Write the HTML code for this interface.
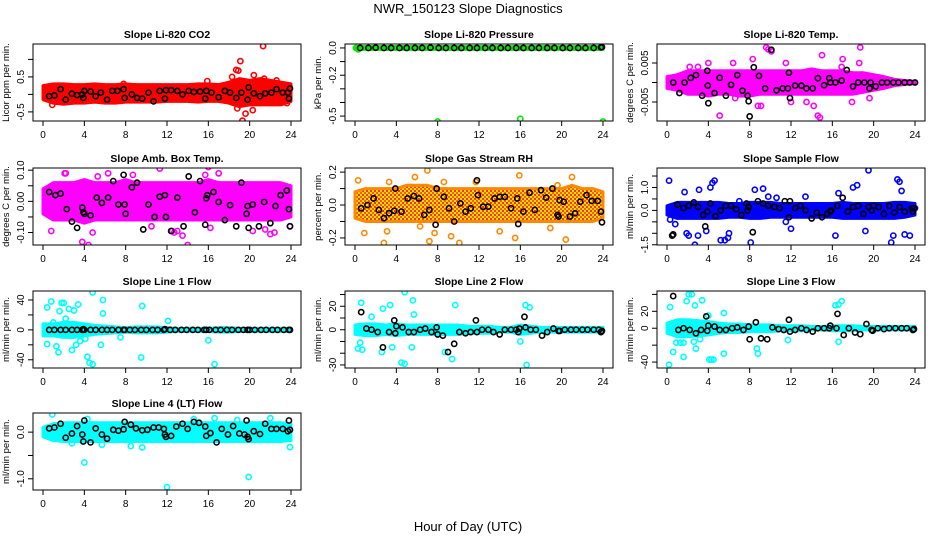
<!DOCTYPE html>
<html><head><meta charset="utf-8">
<style>
html,body{margin:0;padding:0;background:#fff;}
svg{display:block;font-family:"Liberation Sans",Arial,sans-serif;}
</style></head>
<body>
<svg id="fig" width="936" height="540" viewBox="0 0 936 540" xmlns="http://www.w3.org/2000/svg">
<defs>
<pattern id="rhpat" width="4" height="4" patternUnits="userSpaceOnUse">
<rect width="4" height="4" fill="#ffe000"/><rect width="2" height="2" fill="#ff5a00"/><rect x="2" y="2" width="2" height="2" fill="#ff3000"/>
</pattern>
</defs>
<text x="468" y="13" text-anchor="middle" font-size="13">NWR_150123  Slope Diagnostics</text>
<text x="468" y="531" text-anchor="middle" font-size="13">Hour of Day (UTC)</text>
</svg>
<script>
const bandHours=[0,1,2,3,4,5,6,7,8,9,10,11,12,13,14,15,16,17,18,19,20,21,22,23,24];
const xTicks=[0,4,8,12,16,20,24];

// CO2
const co2Hi=[0.25,0.3,0.3,0.28,0.28,0.3,0.28,0.28,0.3,0.28,0.28,0.28,0.28,0.28,0.28,0.3,0.3,0.28,0.35,0.45,0.4,0.45,0.4,0.35,0.3];
const co2Lo=[-0.15,-0.25,-0.28,-0.25,-0.25,-0.22,-0.25,-0.25,-0.22,-0.22,-0.22,-0.22,-0.2,-0.2,-0.2,-0.22,-0.2,-0.2,-0.25,-0.35,-0.3,-0.3,-0.3,-0.3,-0.2];
const co2OutX=[18.7,19.1,21.3,18.9,20.4,19.3,20.3,18.8,15.9,18.3,21.4,0.9,7.8,22.6,19.6,23.6];
const co2OutY=[0.7,0.95,1.38,0.68,0.55,-0.75,-0.45,-0.4,0.38,0.5,0.45,-0.3,0.3,0.4,-0.55,-0.25];
const co2BlkX=[0.6,1.1,1.7,2.2,2.8,3.3,3.8,3.9,4.0,4.6,5.1,5.6,6.2,6.7,7.2,7.8,7.9,8.6,9.1,9.6,10.2,10.7,11.3,11.8,11.9,12.4,13.0,13.5,14.1,14.6,15.2,15.7,15.8,16.3,17.0,17.6,18.1,18.7,19.2,19.8,19.9,20.4,21.0,21.5,22.1,22.6,23.2,23.7,23.8,23.9];
const co2BlkY=[-0.05,-0.03,0.15,-0.15,0.02,-0.02,0.0,-0.1,0.1,0.08,-0.05,0.05,-0.15,0.1,0.1,0.15,-0.1,0.0,-0.1,-0.12,0.05,-0.2,0.1,-0.12,0.12,0.12,0.1,0.0,0.1,0.07,0.08,-0.12,0.1,0.05,-0.08,0.1,0.05,-0.1,0.05,-0.15,0.2,0.03,-0.05,0.03,0.05,0.15,0.05,0.05,-0.12,0.17];

// Pressure
const presHi=[0.01,0.01,0.01,0.01,0.01,0.01,0.01,0.01,0.01,0.01,0.01,0.01,0.01,0.01,0.01,0.01,0.01,0.01,0.01,0.01,0.01,0.01,0.01,0.01,0.01];
const presLo=[-0.01,-0.01,-0.01,-0.01,-0.01,-0.01,-0.01,-0.01,-0.01,-0.01,-0.01,-0.01,-0.01,-0.01,-0.01,-0.01,-0.01,-0.01,-0.01,-0.01,-0.01,-0.01,-0.01,-0.01,-0.01];
const presOutX=[8.0,16.0,24.0,0.1,0.3];
const presOutY=[-0.54,-0.52,-0.54,0.0,-0.01];
const presBlkX=[0.5,1.3,2.0,2.8,3.5,4.3,5.0,5.8,6.5,7.3,8.1,8.8,9.6,10.3,11.1,11.8,12.6,13.3,14.1,14.8,15.6,16.3,17.1,17.8,18.6,19.3,20.1,20.8,21.6,22.3,23.1,23.8,23.9];
const presBlkY=[0,0,0.002,0,0,0,0,0,0,0.002,0,0,0,0,0,0,0,0,0,0,0,0,0,0,0,0,0,0,0,0,0,0.004,0.006];

// Li-820 Temp
const tmpHi=[0.0015,0.002,0.003,0.003,0.003,0.003,0.003,0.003,0.003,0.003,0.003,0.003,0.003,0.003,0.0035,0.003,0.003,0.003,0.0025,0.0025,0.002,0.0015,0.0008,0.0005,0.0003];
const tmpLo=[-0.0015,-0.002,-0.003,-0.003,-0.0035,-0.003,-0.003,-0.0035,-0.0035,-0.003,-0.003,-0.003,-0.003,-0.003,-0.003,-0.003,-0.003,-0.003,-0.003,-0.0025,-0.002,-0.0015,-0.0008,-0.0005,-0.0003];
const tmpOutX=[9.6,18.7,10.1,9.8,5.1,14.6,14.8,14.2,8.3,6.4,4.0,3.0,17.0,18.6,15.0,12.0,9.1,2.2,6.6,19.6,13.5,17.9,11.5,16.9,8.8];
const tmpOutY=[0.009,0.009,0.008,0.0085,-0.0085,-0.0085,-0.009,-0.006,0.006,0.005,0.005,0.004,0.006,0.005,0.007,-0.005,-0.006,0.004,-0.004,-0.004,-0.005,-0.005,0.005,0.004,-0.006];
const tmpBlkX=[0.6,1.2,1.7,2.3,2.8,3.4,3.9,3.95,4.0,4.6,5.1,5.7,6.2,6.8,7.3,7.8,7.9,8.0,8.4,8.9,9.5,10.1,10.6,11.2,11.7,11.8,11.9,12.4,13.0,13.5,14.1,14.6,15.2,15.7,15.8,16.3,16.9,17.4,18.0,18.5,19.1,19.6,19.7,20.2,20.8,21.3,21.9,22.4,23.0,23.5,24.0];
const tmpBlkY=[0,-0.0027,0,0.0012,0.0019,-0.0034,0.003,-0.0008,-0.0053,-0.0027,0.0012,-0.0034,-0.0006,0.0019,-0.0021,-0.0034,-0.0048,-0.0087,0.0039,0.0017,-0.0015,0.0084,-0.002,-0.0015,-0.0015,0.0025,-0.004,-0.0008,-0.0008,-0.0015,-0.0015,0.0011,-0.0007,0.0011,0.0,0.0,0.0005,0.0032,-0.001,0.0,0.0,-0.0015,0.0,-0.001,0.0,0.0,0.0,0.0,0.0,0.0,0.0];

// Amb box temp
const ambHi=[0.04,0.06,0.06,0.06,0.07,0.06,0.06,0.06,0.07,0.06,0.06,0.06,0.06,0.06,0.06,0.06,0.07,0.06,0.06,0.06,0.06,0.06,0.06,0.06,0.05];
const ambLo=[-0.04,-0.06,-0.06,-0.06,-0.07,-0.06,-0.06,-0.06,-0.06,-0.06,-0.06,-0.06,-0.06,-0.06,-0.06,-0.06,-0.06,-0.06,-0.06,-0.06,-0.06,-0.06,-0.06,-0.06,-0.05];
const ambOutX=[2.2,3.8,4.4,4.8,0.8,11.3,12.7,13.0,13.5,14.0,16.0,16.2,20.3,21.5,22.0,22.4,2.1,10.5,12.5,6.3,15.7,17.0,8.7,5.3,23.9];
const ambOutY=[0.09,-0.13,-0.14,-0.1,-0.095,0.105,-0.1,-0.095,-0.11,-0.14,0.11,-0.085,-0.095,-0.09,-0.105,-0.1,0.09,-0.08,-0.095,0.09,0.085,0.09,0.085,0.08,-0.08];
const ambBlkX=[0.6,1.2,1.7,2.3,2.8,3.3,3.8,3.9,4.0,4.6,5.2,5.7,6.3,6.8,7.3,7.8,7.9,8.0,8.6,9.1,9.7,10.2,10.8,11.3,11.8,11.9,12.4,13.0,13.6,14.1,14.7,15.2,15.7,15.8,15.9,16.5,17.0,17.6,18.1,18.7,19.2,19.7,19.8,19.9,20.3,20.9,21.4,22.0,22.5,23.0,23.6,23.8,23.9];
const ambBlkY=[0.03,0.02,0.025,-0.025,-0.065,-0.085,-0.02,-0.035,-0.04,-0.045,0.012,-0.005,0.012,0.065,-0.01,0.085,-0.01,-0.04,0.045,0.06,-0.09,-0.01,-0.05,0.015,0.02,-0.05,-0.095,0.012,-0.08,0.08,-0.035,0.065,-0.075,0.01,0.02,0.03,-0.002,-0.06,-0.012,-0.08,0.06,-0.04,-0.015,-0.085,-0.01,-0.08,-0.002,-0.07,-0.015,0.02,0.035,-0.025,-0.08];

// Gas stream RH
const rhHi=[0.08,0.1,0.1,0.1,0.1,0.12,0.12,0.12,0.1,0.1,0.1,0.1,0.1,0.1,0.1,0.1,0.1,0.1,0.1,0.1,0.1,0.12,0.1,0.1,0.08];
const rhLo=[-0.08,-0.1,-0.1,-0.1,-0.1,-0.1,-0.1,-0.1,-0.1,-0.1,-0.1,-0.1,-0.1,-0.1,-0.1,-0.1,-0.1,-0.1,-0.1,-0.1,-0.1,-0.1,-0.1,-0.1,-0.08];
const rhOutX=[0.3,0.9,2.8,3.3,5.8,6.3,7.0,7.2,7.7,8.6,10.1,11.7,14.0,15.5,15.9,18.9,19.6,20.4,21.0,3.1,7.8,9.3];
const rhOutY=[0.15,-0.17,-0.23,0.14,0.17,-0.13,0.21,-0.22,-0.17,0.14,-0.23,0.14,-0.16,-0.2,0.18,-0.14,0.12,-0.21,0.17,-0.16,0.1,-0.19];
const rhBlkX=[0.6,1.2,1.8,2.3,2.8,3.3,3.8,3.9,4.5,5.1,5.7,6.2,6.7,7.2,7.8,7.9,8.6,9.1,9.6,10.2,10.7,11.2,11.8,11.9,12.4,12.9,13.5,14.0,14.5,15.1,15.7,15.8,16.3,16.9,17.4,18.0,18.5,19.1,19.6,19.7,19.8,20.2,20.8,21.3,21.8,22.4,22.9,23.5,23.8,23.9];
const rhBlkY=[-0.02,0.0,0.04,-0.03,-0.08,-0.05,-0.035,0.1,-0.04,0.04,0.055,0.04,-0.06,-0.03,-0.12,0.1,0.05,-0.02,-0.1,0.01,-0.04,-0.02,0.15,0.06,-0.01,-0.01,0.04,0.05,0.05,-0.02,0.04,-0.115,-0.04,0.075,-0.03,0.09,0.045,0.1,-0.06,-0.07,0.03,0.02,-0.07,-0.05,0.02,0.06,0.025,0.025,-0.04,-0.105];

// Sample flow
const smpHi=[0.2,0.35,0.35,0.35,0.35,0.35,0.3,0.3,0.35,0.35,0.35,0.3,0.3,0.3,0.3,0.3,0.3,0.35,0.3,0.3,0.3,0.3,0.35,0.35,0.3];
const smpLo=[-0.2,-0.35,-0.35,-0.35,-0.35,-0.35,-0.3,-0.3,-0.35,-0.35,-0.3,-0.3,-0.3,-0.3,-0.3,-0.3,-0.3,-0.35,-0.35,-0.35,-0.35,-0.35,-0.35,-0.3,-0.2];
const smpOutX=[0.2,0.3,1.7,1.9,2.1,2.7,3.0,3.1,4.4,4.6,4.2,5.2,5.6,5.9,6.0,8.1,8.5,9.3,9.8,10.6,12.0,13.4,16.3,16.6,18.0,18.4,19.5,19.2,21.7,21.9,22.3,22.5,22.7,23.0,23.5,24.0,0.8,3.8,7.0,11.5];
const smpOutY=[1.3,-0.4,0.8,-1.0,-1.1,-1.5,-1.1,0.9,1.2,1.3,1.0,-1.3,-1.3,-1.2,-1.0,-1.4,0.9,0.95,0.6,0.55,-0.8,0.6,-1.1,0.75,1.0,1.1,1.75,-0.9,-1.4,-1.1,1.35,1.25,0.85,-1.05,-1.1,0.1,-0.6,-0.9,0.4,-0.5];
const smpBlkX=[0.5,0.6,1.0,1.6,2.1,2.6,3.0,3.5,3.7,3.9,4.2,4.7,5.2,5.7,6.2,6.7,7.2,7.7,7.8,7.9,8.3,8.8,9.3,9.8,10.4,10.9,11.4,11.8,11.9,12.4,12.9,13.4,14.0,14.5,15.0,15.5,15.8,15.9,16.5,17.0,17.5,18.0,18.5,19.0,19.5,19.8,20.0,20.5,21.0,21.5,22.0,22.5,23.0,23.7,23.8,23.9];
const smpBlkY=[-1.1,-1.05,0.25,0.1,0.2,0.35,0.15,-0.2,-0.7,-0.05,0.3,-0.25,-0.0,0.2,0.2,0.05,-0.2,0.3,0.0,0.15,-0.95,0.4,0.3,0.2,0.15,0.1,0.4,-0.3,0.4,0.1,0.2,-0.0,-0.35,-0.1,-0.3,-0.15,-0.05,0.0,0.2,0.55,-0.05,0.15,0.2,-0.15,0.15,0.0,0.2,0.15,-0.15,0.2,-0.1,0.15,-0.05,0.1,-0.05,0.1];

// Line 1 flow
const l1Hi=[8,8,10,10,8,6,5,4,3,4,4,4,3,2,2,2,2,3,3,2,2,2,2,2,2];
const l1Lo=[-8,-8,-10,-10,-8,-6,-5,-4,-3,-4,-4,-4,-3,-2,-2,-2,-2,-3,-3,-2,-2,-2,-2,-2,-2];
const l1OutX=[0.8,0.4,1.8,2.0,2.5,3.4,3.0,4.8,5.8,5.8,9.6,9.5,4.3,4.5,4.8,0.4,1.3,1.5,2.8,3.2,3.6,1.6,5.6,12.1,16.6,16.0,2.2,1.0,4.1,7.5];
const l1OutY=[38,30,36,36,28,34,26,50,40,22,32,-37,-36,-44,-46,-19,-22,-30,-27,-20,-15,25,-20,12,-46,-14,15,10,-12,-10];
const l1BlkX=[0.6,1.1,1.7,2.2,2.8,3.3,3.8,3.9,4.0,4.6,5.1,5.7,6.2,6.7,7.3,7.8,7.9,8.4,8.9,9.5,10.0,10.6,11.1,11.7,11.8,12.3,12.8,13.4,13.9,14.5,15.0,15.6,15.8,16.1,16.7,17.2,17.8,18.3,18.9,19.4,19.8,20.0,20.5,21.1,21.6,22.2,22.7,23.3,23.8,23.9];
const l1BlkY=[0,0,0,0,0,0,0,1,0,0,0,0,0,0,0,0,0,0,0,0,0,0,0,0,1,0,0,0,0,0,0,0,0,0,0,0,0,0,0,0,0,0,0,0,0,0,0,0,0,0];

// Line 2 flow
const l2Hi=[4,5,5,4,5,4,4,4,4,4,4,3,3,3,2,2,4,3,2,2,2,2,2,2,2];
const l2Lo=[-4,-5,-5,-4,-5,-4,-4,-4,-4,-4,-4,-3,-3,-3,-2,-2,-4,-3,-2,-2,-2,-2,-2,-2,-2];
const l2OutX=[0.6,0.3,0.7,2.7,3.4,4.8,5.6,5.7,9.7,4.5,4.8,2.6,0.5,8.7,9.4,16.5,16.9,16.6,16.0,5.5,3.6,1.6];
const l2OutY=[23,-16,-17,18,21,32,25,13,21,-28,-29,-19,-11,-19,-25,21,19,-30,-10,-15,-15,11];
const l2BlkX=[0.6,1.1,1.6,2.2,2.7,3.3,3.8,3.9,4.0,4.6,5.2,5.7,6.3,6.8,7.4,7.9,8.0,8.5,9.0,9.6,10.1,10.7,11.2,11.7,11.8,12.3,12.9,13.4,14.0,14.5,15.1,15.6,15.8,15.9,16.4,16.5,17.0,17.5,18.1,18.6,19.2,19.7,19.8,20.3,20.9,21.4,22.0,22.5,23.1,23.6,23.8,23.9];
const l2BlkY=[15,1,0,-2,-15,-2,8,-3,3,2,-2,-2,0,1,-2,2,-4,-5,-19,-12,-2,-3,-2,8,-2,0,0,-2,-4,0,0,0,-2,1,11,2,0,0,-5,-2,1,-1,-1,0,0,0,0,0,0,0,-2,-1];

// Line 3 flow
const l3Hi=[6,10,10,9,8,6,5,5,4,4,4,3,3,3,2,2,3,3,3,2,2,2,2,2,2];
const l3Lo=[-6,-10,-10,-9,-8,-6,-5,-5,-4,-4,-4,-3,-3,-3,-2,-2,-3,-3,-3,-2,-2,-2,-2,-2,-2];
const l3OutX=[0.2,0.3,0.6,1.6,1.9,2.1,2.4,2.7,2.8,3.4,4.1,4.3,4.5,5.5,1.6,0.9,1.3,2.6,4.0,8.7,8.8,16.3,16.6,16.9,16.6,11.7,3.2,5.5];
const l3OutY=[-43,25,-28,-34,32,40,40,27,-24,33,-37,-37,-37,-30,-17,-17,-17,-16,15,-24,-30,27,28,32,-16,-14,-13,18];
const l3BlkX=[0.6,1.1,1.6,2.2,2.8,3.3,3.8,3.9,4.0,4.6,5.1,5.7,6.3,6.8,7.4,7.9,8.0,8.6,9.1,9.7,10.2,10.8,11.3,11.8,11.9,12.4,13.0,13.5,14.1,14.6,15.2,15.7,15.8,16.4,16.5,17.1,17.6,18.2,18.7,19.3,19.8,19.9,20.4,21.0,21.5,22.1,22.7,23.2,23.8,23.9];
const l3BlkY=[38,-2,0,-2,-6,-2,14,-3,3,2,-2,-2,0,1,-2,2,-13,7,-12,-13,1,-1,-2,10,-4,-2,0,-2,-4,0,0,0,3,0,17,-8,0,-5,-7,5,-2,-3,0,-1,0,0,0,0,-2,-1];

// Line 4 flow
const l4Hi=[0.1,0.18,0.2,0.2,0.2,0.2,0.2,0.2,0.2,0.2,0.2,0.2,0.2,0.2,0.2,0.2,0.2,0.2,0.2,0.2,0.2,0.2,0.2,0.2,0.18];
const l4Lo=[-0.1,-0.18,-0.2,-0.2,-0.2,-0.2,-0.2,-0.2,-0.2,-0.2,-0.2,-0.2,-0.2,-0.2,-0.2,-0.2,-0.2,-0.2,-0.2,-0.2,-0.2,-0.2,-0.2,-0.2,-0.18];
const l4OutX=[0.9,4.0,12.0,19.9,16.6,9.6,23.9,8.5,14.6,4.3,18.8,22.0,2.8,5.7];
const l4OutY=[0.38,-0.65,-1.18,-0.96,0.3,-0.33,-0.32,-0.3,0.28,0.28,0.26,0.3,-0.24,-0.27];
const l4BlkX=[0.6,1.1,1.7,2.2,2.8,3.3,3.8,3.9,4.0,4.6,5.1,5.7,6.2,6.8,7.3,7.8,7.9,8.5,9.0,9.6,10.1,10.7,11.2,11.7,11.8,11.9,12.4,12.9,13.5,14.0,14.6,15.1,15.7,15.8,16.2,16.8,17.3,17.9,18.4,19.0,19.5,19.7,19.8,19.9,20.4,21.0,21.5,22.1,22.6,23.2,23.7,23.8,23.9];
const l4BlkY=[0.08,0.1,0.18,-0.12,-0.03,0.13,-0.05,-0.2,0.25,-0.22,0.08,-0.05,-0.14,0.05,0.03,0.06,0.22,0.16,0.08,0.04,0.05,0.1,0.1,0.07,-0.05,-0.1,-0.08,0.12,0.18,0.07,0.22,0.2,0.12,-0.08,-0.02,-0.22,0.07,-0.05,0.13,-0.03,-0.05,0.25,-0.1,-0.15,0.02,-0.04,0.18,0.07,0.07,0.07,0.02,0.25,0.05];

const panels=[
 {id:'co2',title:'Slope Li-820 CO2',ylab:'Licor ppm per min.',col:0,row:0,ymin:-0.76,ymax:1.44,ticks:[-0.5,0,0.5,1.0],labels:['-0.5','','0.5',''],color:'#ff0000',hi:co2Hi,lo:co2Lo,ox:co2OutX,oy:co2OutY,bx:co2BlkX,by:co2BlkY},
 {id:'pressure',title:'Slope Li-820 Pressure',ylab:'kPa per min.',col:1,row:0,ymin:-0.536,ymax:0.029,ticks:[0,-0.1,-0.2,-0.3,-0.4,-0.5],labels:['0.0','','-0.2','','','-0.5'],color:'#00ee00',hi:presHi,lo:presLo,ox:presOutX,oy:presOutY,bx:presBlkX,by:presBlkY},
 {id:'temp',title:'Slope Li-820 Temp.',ylab:'degrees C  per min.',col:2,row:0,ymin:-0.00987,ymax:0.00987,ticks:[0.005,0,-0.005],labels:['0.005','','-0.005'],color:'#ff00ff',hi:tmpHi,lo:tmpLo,ox:tmpOutX,oy:tmpOutY,bx:tmpBlkX,by:tmpBlkY},
 {id:'amb-temp',title:'Slope Amb. Box Temp.',ylab:'degrees C per min.',col:0,row:1,ymin:-0.14,ymax:0.107,ticks:[0.1,0.05,0,-0.05,-0.1],labels:['0.10','','0.00','','-0.10'],color:'#ff00ff',hi:ambHi,lo:ambLo,ox:ambOutX,oy:ambOutY,bx:ambBlkX,by:ambBlkY},
 {id:'rh',title:'Slope Gas Stream RH',ylab:'percent per min.',col:1,row:1,ymin:-0.243,ymax:0.225,ticks:[0.2,0.1,0,-0.1,-0.2],labels:['0.2','','0.0','','-0.2'],color:'#ff8800',fill:'url(#rhpat)',hi:rhHi,lo:rhLo,ox:rhOutX,oy:rhOutY,bx:rhBlkX,by:rhBlkY},
 {id:'sample-flow',title:'Slope Sample Flow',ylab:'ml/min per min.',col:2,row:1,ymin:-1.51,ymax:1.85,ticks:[1.5,1.0,0.5,0,-0.5,-1,-1.5],labels:['','1.0','','0.0','','','-1.5'],color:'#0000ff',hi:smpHi,lo:smpLo,ox:smpOutX,oy:smpOutY,bx:smpBlkX,by:smpBlkY},
 {id:'line1-flow',title:'Slope Line 1 Flow',ylab:'ml/min per min.',col:0,row:2,ymin:-51,ymax:52,ticks:[40,20,0,-20,-40],labels:['40','','0','','-40'],color:'#00ffff',hi:l1Hi,lo:l1Lo,ox:l1OutX,oy:l1OutY,bx:l1BlkX,by:l1BlkY},
 {id:'line2-flow',title:'Slope Line 2 Flow',ylab:'ml/min per min.',col:1,row:2,ymin:-32.6,ymax:33,ticks:[30,20,10,0,-10,-20,-30],labels:['','20','','0','','','-30'],color:'#00ffff',hi:l2Hi,lo:l2Lo,ox:l2OutX,oy:l2OutY,bx:l2BlkX,by:l2BlkY},
 {id:'line3-flow',title:'Slope Line 3 Flow',ylab:'ml/min per min.',col:2,row:2,ymin:-47,ymax:44,ticks:[40,20,0,-20,-40],labels:['','20','0','','-40'],color:'#00ffff',hi:l3Hi,lo:l3Lo,ox:l3OutX,oy:l3OutY,bx:l3BlkX,by:l3BlkY},
 {id:'line4-flow',title:'Slope Line 4 (LT) Flow',ylab:'ml/min per min.',col:0,row:3,ymin:-1.24,ymax:0.41,ticks:[0,-0.5,-1.0],labels:['0.0','','-1.0'],color:'#00ffff',hi:l4Hi,lo:l4Lo,ox:l4OutX,oy:l4OutY,bx:l4BlkX,by:l4BlkY}
];
const rowTops=[44,168,291,413];
const NS='http://www.w3.org/2000/svg';
const svg=document.getElementById('fig');
function mk(tag,attrs,parent){const e=document.createElementNS(NS,tag);for(const k in attrs)e.setAttribute(k,attrs[k]);(parent||svg).appendChild(e);return e;}

panels.forEach(p=>{
  const L=p.col*312+33, R=L+268, T=rowTops[p.row], B=T+77;
  const xs=h=>L+10+h/24*248;
  const ys=v=>B-(v-p.ymin)/(p.ymax-p.ymin)*77;
  const g=mk('g',{});
  
  
  const clip=mk('clipPath',{id:'clip-'+p.id},g);
  mk('rect',{x:L,y:T,width:268,height:77},clip);
  const plot=mk('g',{'clip-path':'url(#clip-'+p.id+')'},g);
  
  
  let pts=bandHours.map((h,i)=>xs(h)+','+ys(p.hi[i]));
  pts=pts.concat(bandHours.slice().reverse().map((h,j)=>{const i=bandHours.length-1-j;return xs(h)+','+ys(p.lo[i]);}));
  const band=mk('polygon',{points:pts.join(' '),fill:p.fill||p.color,stroke:p.color,'stroke-width':3,'stroke-linejoin':'round'},plot);
  
  
  p.ox.forEach((x,i)=>{
    const c=mk('circle',{cx:xs(x),cy:ys(p.oy[i]),r:2.6,fill:'none',stroke:p.color,'stroke-width':1.6},plot);
    
    
  });
  p.bx.forEach((x,i)=>{
    const c=mk('circle',{cx:xs(x),cy:ys(p.by[i]),r:2.6,fill:'none',stroke:'#000','stroke-width':1.6},plot);
    
    
  });
  const box=mk('rect',{x:L,y:T,width:268,height:77,fill:'none',stroke:'#000','stroke-width':1},g);
  
  
  const t=mk('text',{x:(L+R)/2,y:T-6,'text-anchor':'middle','font-size':10.5,'font-weight':'bold'},g);
  t.textContent=p.title;
  
  
  xTicks.forEach(h=>{
    mk('line',{x1:xs(h),x2:xs(h),y1:B,y2:B+5,stroke:'#000'},g);
    const tl=mk('text',{x:xs(h),y:B+17,'text-anchor':'middle','font-size':10},g);
    tl.textContent=h;
    
    
  });
  p.ticks.forEach((v,i)=>{
    mk('line',{x1:L-5,x2:L,y1:ys(v),y2:ys(v),stroke:'#000'},g);
    if(p.labels[i]){
      const tl=mk('text',{x:L-9,y:ys(v),'text-anchor':'middle','font-size':10,transform:'rotate(-90 '+(L-9)+' '+ys(v)+')'},g);
      tl.textContent=p.labels[i];
      
      
    }
  });
  const yl=mk('text',{x:L-24,y:(T+B)/2,'text-anchor':'middle','font-size':9.5,transform:'rotate(-90 '+(L-24)+' '+((T+B)/2)+')'},g);
  yl.textContent=p.ylab;
  
  
});
</script>
</body></html>
